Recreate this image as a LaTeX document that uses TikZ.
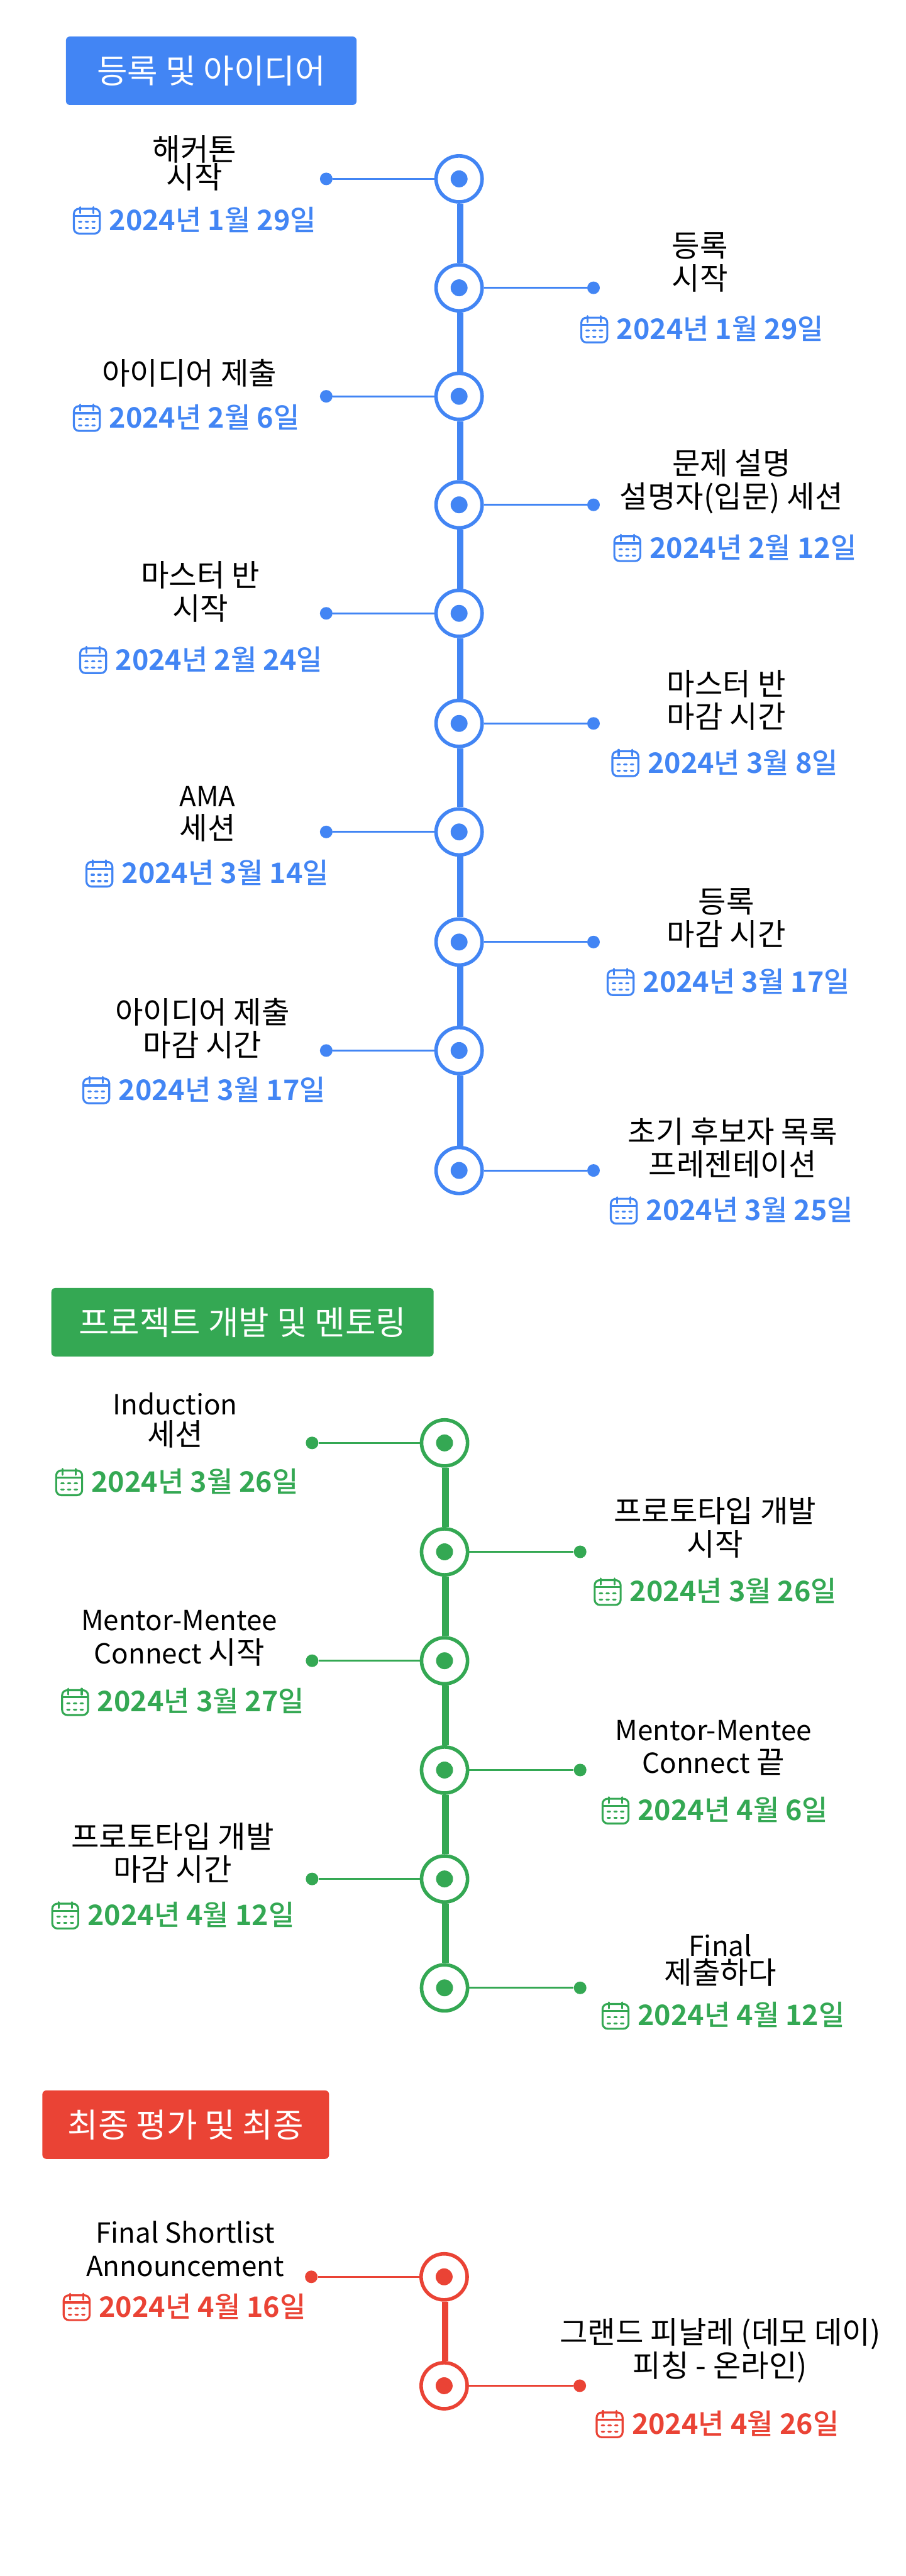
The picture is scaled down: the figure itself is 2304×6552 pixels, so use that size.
\documentclass[tikz,border=0pt]{standalone}
\usepackage{fontspec}
\setmainfont{Noto Sans CJK KR}
\newfontfamily\datefont{Noto Sans CJK KR Medium}
\newfontfamily\numfont{Noto Sans CJK KR Bold}
\newcommand{\lat}[1]{{\fontsize{20}{23.9}\selectfont #1}}
\newcommand{\dnum}[1]{{\numfont #1}}
\definecolor{BlueColor}{RGB}{66,133,244}
\definecolor{GreenColor}{RGB}{52,168,83}
\definecolor{RedColor}{RGB}{234,67,53}
\usetikzlibrary{positioning, calc}
\tikzset{
    phasebox/.style={fill=#1, rounded corners=0.1cm, inner sep=0, font=\fontsize{24}{26}\selectfont, text=white},
    ring/.style={circle, draw=#1, fill=white, line width=0.09cm, minimum size=1.17cm, inner sep=0},
    ringdot/.style={circle, fill=#1, minimum size=0.43cm, inner sep=0},
    spine/.style={#1, line width=0.165cm},
    stub/.style={#1, line width=0.045cm},
    stubdot/.style={circle, fill=#1, minimum size=0.32cm, inner sep=0},
    eventtext/.style={align=center, inner sep=0, font=\fontsize{22}{23.9}\selectfont},
    datetext/.style={#1, anchor=base west, inner sep=0, font=\datefont\fontsize{20.4}{22.8}\selectfont},
    calendar/.pic={
        \draw[line width=0.05cm, rounded corners=0.13cm] (-33,-30) rectangle (33,33);
        \draw[line width=0.05cm] (-33,-12) -- (33,-12);
        \draw[line width=0.05cm, line cap=round] (-17,-34) -- (-17,-19) (17,-34) -- (17,-19);
        \foreach \cy in {3,19} {\foreach \cx in {-17,0,17} {\draw[line width=0.05cm, line cap=round] (\cx-3,\cy) -- (\cx+3,\cy);}}
    }
}
\begin{document}
\begin{tikzpicture}[x=0.01cm, y=-0.01cm]
    \useasboundingbox (0,0) rectangle (2304,6552);
    % Phase headers
    \node[phasebox=BlueColor, minimum width=7.39cm, minimum height=1.74cm] (bluehead) at (537.5,180) {등록 및 아이디어};
    \node[phasebox=GreenColor, minimum width=9.72cm, minimum height=1.74cm] (greenhead) at (617,3363) {프로젝트 개발 및 멘토링};
    \node[phasebox=RedColor, minimum width=7.29cm, minimum height=1.74cm] (redhead) at (472.5,5404) {최종 평가 및 최종};
    % Blue rings and connectors
    \foreach \n/\ry/\sx in {1/455/830, 2/732/1510, 3/1008/830, 4/1284/1510, 5/1560/830, 6/1840/1510, 7/2116/830, 8/2396/1510, 9/2672/830, 10/2977/1510} {
        \node[ring=BlueColor] (bring\n) at (1168,\ry) {};
        \node[ringdot=BlueColor] (bdot\n) at (bring\n) {};
        \node[stubdot=BlueColor] (bstub\n) at (\sx,\ry) {};
        \draw[stub=BlueColor] (bring\n) -- (bstub\n);
    }
    \foreach \a/\b in {1/2, 2/3, 3/4, 4/5, 5/6, 6/7, 7/8, 8/9, 9/10} {\draw[spine=BlueColor] ([xshift=0.025cm]bring\a.south) -- ([xshift=0.025cm]bring\b.north);}
    % Green rings and connectors
    \foreach \n/\ry/\sx in {1/3670/794, 2/3947/1476, 3/4224/794, 4/4502/1476, 5/4779/794, 6/5056/1476} {
        \node[ring=GreenColor] (gring\n) at (1131,\ry) {};
        \node[ringdot=GreenColor] (gdot\n) at (gring\n) {};
        \node[stubdot=GreenColor] (gstub\n) at (\sx,\ry) {};
        \draw[stub=GreenColor] (gring\n) -- (gstub\n);
    }
    \foreach \a/\b in {1/2, 2/3, 3/4, 4/5, 5/6} {\draw[spine=GreenColor] ([xshift=0.025cm]gring\a.south) -- ([xshift=0.025cm]gring\b.north);}
    % Red rings and connectors
    \foreach \n/\ry/\sx in {1/5791/792, 2/6068/1475} {
        \node[ring=RedColor] (rring\n) at (1130,\ry) {};
        \node[ringdot=RedColor] (rdot\n) at (rring\n) {};
        \node[stubdot=RedColor] (rstub\n) at (\sx,\ry) {};
        \draw[stub=RedColor] (rring\n) -- (rstub\n);
    }
    \draw[spine=RedColor] ([xshift=0.025cm]rring1.south) -- ([xshift=0.025cm]rring2.north);
    % Blue events
    \foreach \n/\cx/\my/\lab/\ix/\dy/\dat in {
        1/495/415/{해커톤\\[-3.7pt]시작}/221/561/{\dnum{2024}년 \dnum{1}월 \dnum{29}일},
        2/1781/667/{등록\\시작}/1512/838/{\dnum{2024}년 \dnum{1}월 \dnum{29}일},
        3/482/949/{아이디어 제출}/221/1063/{\dnum{2024}년 \dnum{2}월 \dnum{6}일},
        4/1861/1225/{문제 설명\\설명자(입문) 세션}/1596/1394/{\dnum{2024}년 \dnum{2}월 \dnum{12}일},
        5/510/1505/{마스터 반\\시작}/237/1679/{\dnum{2024}년 \dnum{2}월 \dnum{24}일},
        6/1848/1781/{마스터 반\\마감 시간}/1591/1941/{\dnum{2024}년 \dnum{3}월 \dnum{8}일},
        7/528/2070/{\lat{AMA}\\세션}/253/2222/{\dnum{2024}년 \dnum{3}월 \dnum{14}일},
        8/1848/2335/{등록\\마감 시간}/1579/2498/{\dnum{2024}년 \dnum{3}월 \dnum{17}일},
        9/515/2616/{아이디어 제출\\마감 시간}/245/2773/{\dnum{2024}년 \dnum{3}월 \dnum{17}일},
        10/1864/2920/{초기 후보자 목록\\프레젠테이션}/1587/3079/{\dnum{2024}년 \dnum{3}월 \dnum{25}일}} {
        \node[eventtext] (blabel\n) at (\cx,\my) {\lab};
        \node[datetext=BlueColor] (bdate\n) at (\ix+56,\dy+25) {\dat};
        \pic[BlueColor] at (\ix,\dy) {calendar};
    }
    % Green events
    \foreach \n/\cx/\my/\lab/\ix/\dy/\dat in {
        1/446/3613/{\lat{Induction}\\[-1.7pt]세션}/176/3770/{\dnum{2024}년 \dnum{3}월 \dnum{26}일},
        2/1819/3885/{프로토타입 개발\\시작}/1546/4049/{\dnum{2024}년 \dnum{3}월 \dnum{26}일},
        3/456/4167/{\lat{Mentor-Mentee}\\\lat{Connect} 시작}/191/4329/{\dnum{2024}년 \dnum{3}월 \dnum{27}일},
        4/1815/4445/{\lat{Mentor-Mentee}\\\lat{Connect} 끝}/1566/4605/{\dnum{2024}년 \dnum{4}월 \dnum{6}일},
        5/439/4713/{프로토타입 개발\\마감 시간}/166/4872/{\dnum{2024}년 \dnum{4}월 \dnum{12}일},
        6/1833/4986/{\lat{Final}\\[-4pt]제출하다}/1566/5127/{\dnum{2024}년 \dnum{4}월 \dnum{12}일}} {
        \node[eventtext] (glabel\n) at (\cx,\my) {\lab};
        \node[datetext=GreenColor] (gdate\n) at (\ix+56,\dy+25) {\dat};
        \pic[GreenColor] at (\ix,\dy) {calendar};
    }
    % Red events
    \foreach \n/\cx/\my/\lab/\ix/\dy/\dat in {
        1/471/5720/{\lat{Final Shortlist}\\\lat{Announcement}}/195/5868/{\dnum{2024}년 \dnum{4}월 \dnum{16}일},
        2/1832/5979/{그랜드 피날레 (데모 데이)\\피칭 - 온라인)}/1551/6166/{\dnum{2024}년 \dnum{4}월 \dnum{26}일}} {
        \node[eventtext] (rlabel\n) at (\cx,\my) {\lab};
        \node[datetext=RedColor] (rdate\n) at (\ix+56,\dy+25) {\dat};
        \pic[RedColor] at (\ix,\dy) {calendar};
    }
\end{tikzpicture}
\end{document}
